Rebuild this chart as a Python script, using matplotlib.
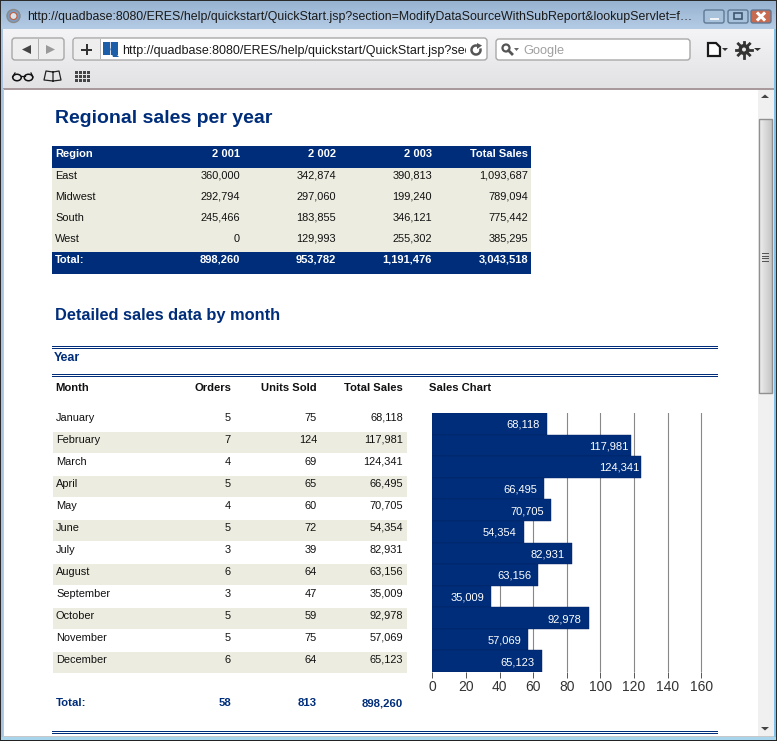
#!/usr/bin/env python3

import matplotlib
matplotlib.use("Agg")
import matplotlib.pyplot as plt
import numpy as np
from matplotlib.patches import Rectangle, FancyBboxPatch, Polygon, Circle, Ellipse, Arc

plt.rcParams['font.family'] = ['Liberation Sans', 'DejaVu Sans']

W = 777
H = 741
NAVY = "#002d7a"
BAND = "#ecece0"

# top table
regions = ["East", "Midwest", "South", "West"]
year_labels = ["2 001", "2 002", "2 003", "Total Sales"]
sales_2001 = ["360,000", "292,794", "245,466", "0"]
sales_2002 = ["342,874", "297,060", "183,855", "129,993"]
sales_2003 = ["390,813", "199,240", "346,121", "255,302"]
sales_total = ["1,093,687", "789,094", "775,442", "385,295"]
region_totals = ["898,260", "953,782", "1,191,476", "3,043,518"]

# monthly table
months = ["January", "February", "March", "April", "May", "June", "July",
          "August", "September", "October", "November", "December"]
orders = [5, 7, 4, 5, 4, 5, 3, 6, 3, 5, 5, 6]
units = [75, 124, 69, 65, 60, 72, 39, 64, 47, 59, 75, 64]
month_sales = [68118, 117981, 124341, 66495, 70705, 54354, 82931, 63156, 35009, 92978, 57069, 65123]
month_headers = ["Orders", "Units Sold", "Total Sales"]
month_totals = ["58", "813", "898,260"]
chart_ticks = [0, 20, 40, 60, 80, 100, 120, 140, 160]

title_url = "http://quadbase:8080/ERES/help/quickstart/QuickStart.jsp?section=ModifyDataSourceWithSubReport&lookupServlet=f\u2026"
bar_url = "http://quadbase:8080/ERES/help/quickstart/QuickStart.jsp?sec"

fig = plt.figure(figsize=(W / 100, H / 100), dpi=100)
bg = fig.add_axes([0, 0, 1, 1])
bg.set_xlim(0, W)
bg.set_ylim(H, 0)
bg.axis("off")


def rect(x0, y0, x1, y1, color, z=1):
    bg.add_patch(Rectangle((x0, y0), x1 - x0, y1 - y0, fc=color, ec="none", zorder=z))


def gradient(x0, y0, x1, y1, c0, c1, z=1, horizontal=False):
    cmap = matplotlib.colors.LinearSegmentedColormap.from_list("g", [c0, c1])
    g = np.linspace(0, 1, 64)
    g = g.reshape(1, -1) if horizontal else g.reshape(-1, 1)
    bg.imshow(g, cmap=cmap, extent=(x0, x1, y1, y0), aspect="auto", zorder=z, interpolation="bilinear")
    bg.set_xlim(0, W)
    bg.set_ylim(H, 0)


def box(x0, y0, x1, y1, fc="white", ec="#a8a8a8", z=3, r=3):
    bg.add_patch(FancyBboxPatch((x0 + r, y0 + r), x1 - x0 - 2 * r, y1 - y0 - 2 * r,
                                boxstyle="round,pad=%d,rounding_size=%d" % (r, r),
                                fc=fc, ec=ec, lw=1.0, zorder=z))


# y is the middle of the capitals, so rows keep one baseline
def txt(x, y, s, size=7.9, color="#111111", weight="normal", ha="left", z=5):
    base = y + 0.358 * size * 100 / 72
    bg.text(x, base, s, fontsize=size, color=color, fontweight=weight, ha=ha, va="baseline", zorder=z)


def double_line(y):
    rect(52, y, 718, y + 1, NAVY, 2)
    rect(52, y + 2, 718, y + 3, NAVY, 2)


# window chrome
rect(0, 0, W, H, "#ffffff", 0)
gradient(0, 0, W, 29, "#96b2d0", "#b4cbe4")
rect(0, 0, W, 1, "#2a2a2a", 2)
gradient(3, 29, 774, 88, "#f4f4f6", "#e2e2e5")
rect(3, 88, 774, 89.5, "#a89a9c", 2)
rect(0, 29, 3, H, "#a8c4e0", 2)
rect(3, 89, 4, 736, "#c8c8c8", 2)
rect(774, 29, W, H, "#7fc4e8", 2)
rect(0, 0, 1, H, "#2a2a2a", 3)
rect(776, 0, W, H, "#2a2a2a", 3)
rect(3, 736, 774, 737, "#c8c8c8", 2)
rect(0, 737, W, 740, "#a8d4ec", 2)
rect(0, 740, W, H, "#222222", 3)

bg.add_patch(Circle((13.5, 16), 6.5, fc="#7d9cc0", ec="#8a8a8a", lw=1, zorder=4))
bg.add_patch(Circle((13.5, 16), 3.5, fc="#d8e4ee", ec="#c06040", lw=0.8, zorder=5))
txt(27, 16, title_url, size=8.94, color="#1a1a1a")

for x0, x1, c in [(704, 724, "#a9c2dc"), (728, 748, "#a9c2dc"), (751, 771, "#c86a50")]:
    box(x0, 10, x1, 23, fc=c, ec="#5f7894", z=3, r=2)
rect(710, 17.5, 719, 20, "#f0f4f8", 5)
bg.add_patch(Rectangle((734, 13), 8, 6, fc="none", ec="#3d5570", lw=1.2, zorder=5))
bg.plot([758, 764], [13.5, 19.5], color="white", lw=2.2, zorder=5)
bg.plot([758, 764], [19.5, 13.5], color="white", lw=2.2, zorder=5)

# nav buttons
box(12, 38, 64, 60, fc="#eeeeee")
rect(38.2, 39, 39.2, 59, "#b0b0b0", 4)
bg.add_patch(Polygon([[22, 49.5], [31, 45], [31, 54]], fc="#444444", zorder=5))
bg.add_patch(Polygon([[55, 49.5], [46, 45], [46, 54]], fc="#9a9a9a", zorder=5))
box(73, 38, 487, 60, fc="white")
rect(74, 39, 100, 59, "#eeeeee", 4)
rect(100, 39, 101, 59, "#b8b8b8", 4)
rect(81, 48.5, 92, 50.5, "#333333", 5)
rect(85.5, 44, 87.5, 55, "#333333", 5)
rect(103, 42, 118, 55, "#1d5ea8", 5)
rect(110, 42, 111, 55, "#d0dcec", 6)
bg.add_patch(Polygon([[110, 48], [119, 57], [113, 57]], fc="#1d5ea8", zorder=6))
txt(122, 49.5, bar_url, size=9.0, color="#1a1a1a")
rect(466, 40, 486, 58, "white", 6)
bg.add_patch(Arc((476, 50), 9, 9, theta1=-20, theta2=300, color="#555555", lw=1.8, zorder=7))
bg.add_patch(Polygon([[477, 43], [482, 45.5], [477, 49]], fc="#555555", zorder=7))
box(496, 39, 690, 60, fc="white")
bg.add_patch(Circle((506, 48), 3.5, fc="none", ec="#555555", lw=1.6, zorder=5))
bg.plot([508.5, 512], [50.5, 54], color="#555555", lw=2, zorder=5)
bg.add_patch(Polygon([[514, 48], [519, 48], [516.5, 51]], fc="#666666", zorder=5))
txt(523, 49.5, "Google", size=9.2, color="#a0a0a0")
bg.add_patch(Polygon([[708, 43], [716, 43], [720, 47], [720, 56], [708, 56]], fc="white", ec="#1a1a1a", lw=1.6, zorder=5))
bg.add_patch(Polygon([[722, 48], [728, 48], [725, 51]], fc="#333333", zorder=5))
bg.add_patch(Circle((744, 49.5), 5.5, fc="#333333", ec="none", zorder=5))
for a in np.arange(0, 360, 45):
    ca, sa = np.cos(np.radians(a)), np.sin(np.radians(a))
    bg.plot([744, 744 + 8 * ca], [49.5, 49.5 + 8 * sa], color="#333333", lw=2, zorder=5)
bg.add_patch(Circle((744, 49.5), 2, fc="#e8e8ea", ec="none", zorder=6))
bg.add_patch(Polygon([[754, 48], [761, 48], [757.5, 51]], fc="#333333", zorder=5))

# bookmarks row
for cx in [17, 28.5]:
    bg.add_patch(Ellipse((cx, 77.5), 8.5, 6.5, fc="none", ec="#111111", lw=1.1, zorder=5))
bg.plot([21, 24.5], [76, 76], color="#111111", lw=0.9, zorder=5)
bg.plot([12.5, 15], [77, 73], color="#111111", lw=0.9, zorder=5)
bg.plot([33, 31], [77, 73], color="#111111", lw=0.9, zorder=5)
bg.plot([53, 46, 44, 53, 61, 59, 53, 53], [72, 71, 80, 81, 80, 71, 72, 81], color="#222222", lw=0.9, zorder=5)
for gx in [75, 79, 83, 87]:
    for gy in [71, 75, 79]:
        rect(gx, gy, gx + 3, gy + 3, "#444444", 5)

# scrollbar
rect(758, 89.5, 774, 736, "#f0f0f0", 2)
bg.add_patch(Polygon([[761, 98], [769, 98], [765, 94.5]], fc="#444444", zorder=5))
bg.add_patch(Polygon([[761, 727], [769, 727], [765, 730.5]], fc="#444444", zorder=5))
gradient(759, 119, 772, 393, "#f0f0f0", "#c4c4c4", z=3, horizontal=True)
bg.add_patch(Rectangle((759, 119), 13, 274, fc="none", ec="#909090", lw=1, zorder=4))
for gy in [253, 255.5, 258, 260.5]:
    rect(762, gy, 769, gy + 1, "#555555", 5)

# page: top table
txt(55, 116, "Regional sales per year", size=14.0, color=NAVY, weight="bold")
rect(52, 146, 531, 168, NAVY)
rect(52, 168, 531, 252, BAND)
rect(52, 252, 531, 274, NAVY)

col_right = [240, 336, 432, 528]
txt(55, 153, "Region", size=8, color="white", weight="bold")
txt(55, 259, "Total:", size=8, color="white", weight="bold")
for x, lab, total in zip(col_right, year_labels, region_totals):
    txt(x, 153, lab, size=8, color="white", weight="bold", ha="right")
    txt(x, 259, total, size=8, color="white", weight="bold", ha="right")
for i, reg in enumerate(regions):
    y = 175 + 21 * i
    txt(55, y, reg)
    for x, col in zip(col_right, [sales_2001, sales_2002, sales_2003, sales_total]):
        txt(x, y, col[i], ha="right")

# page: monthly table
txt(55, 314, "Detailed sales data by month", size=11.75, color=NAVY, weight="bold")
double_line(346)
txt(54, 357, "Year", size=9.0, color=NAVY, weight="bold")
double_line(374)

txt(55, 387, "Month", size=8.1, weight="bold")
head_right = [231, 317, 403]
for x, lab in zip(head_right, month_headers):
    txt(x, 387, lab, size=8.1, weight="bold", ha="right")
txt(429, 387, "Sales Chart", size=8.1, weight="bold")

for i, name in enumerate(months):
    y = 417 + 22 * i
    if i % 2 == 1:
        rect(53, y - 7, 407, y + 13.5, BAND)
    txt(56, y, name)
    txt(head_right[0], y, str(orders[i]), ha="right")
    txt(head_right[1], y, str(units[i]), ha="right")
    txt(head_right[2], y, format(month_sales[i], ","), ha="right")

txt(56, 702, "Total:", size=8.2, color=NAVY, weight="bold")
for x, t in zip(head_right, month_totals):
    txt(x, 702, t, size=8.2, color=NAVY, weight="bold", ha="right")
double_line(731)

# sales chart, a little wider than 160 so the last grid line is not clipped
PX_PER_UNIT = 1.68
x_max = 162
ax = fig.add_axes([432.3 / W, 1 - 672 / H, x_max * PX_PER_UNIT / W, 259 / H])
ax.patch.set_alpha(0)
pos = np.arange(len(months))
vals = np.array(month_sales) / 1000
ax.barh(pos, vals, height=1.0, color=NAVY, edgecolor="#00215e", linewidth=0.3, zorder=3)
ax.set_xlim(0, x_max)
ax.set_ylim(len(months) - 0.5, -0.5)
ax.set_yticks([])
ax.set_xticks(chart_ticks)
ax.tick_params(axis="x", length=4, width=0.7, color="#555555", labelcolor="#333333", labelsize=10, pad=2)
ax.grid(axis="x", color="#888888", lw=0.8, zorder=1)
for s in ["top", "right", "bottom", "left"]:
    ax.spines[s].set_visible(False)
for p, v, raw in zip(pos, vals, month_sales):
    off = -1.5 if raw >= 100000 else -5
    ax.annotate(format(raw, ","), (v, p), xytext=(off, 0), textcoords="offset points",
                ha="right", va="center_baseline", color="white", fontsize=8, zorder=4)

fig.savefig("out.png", dpi=100)
